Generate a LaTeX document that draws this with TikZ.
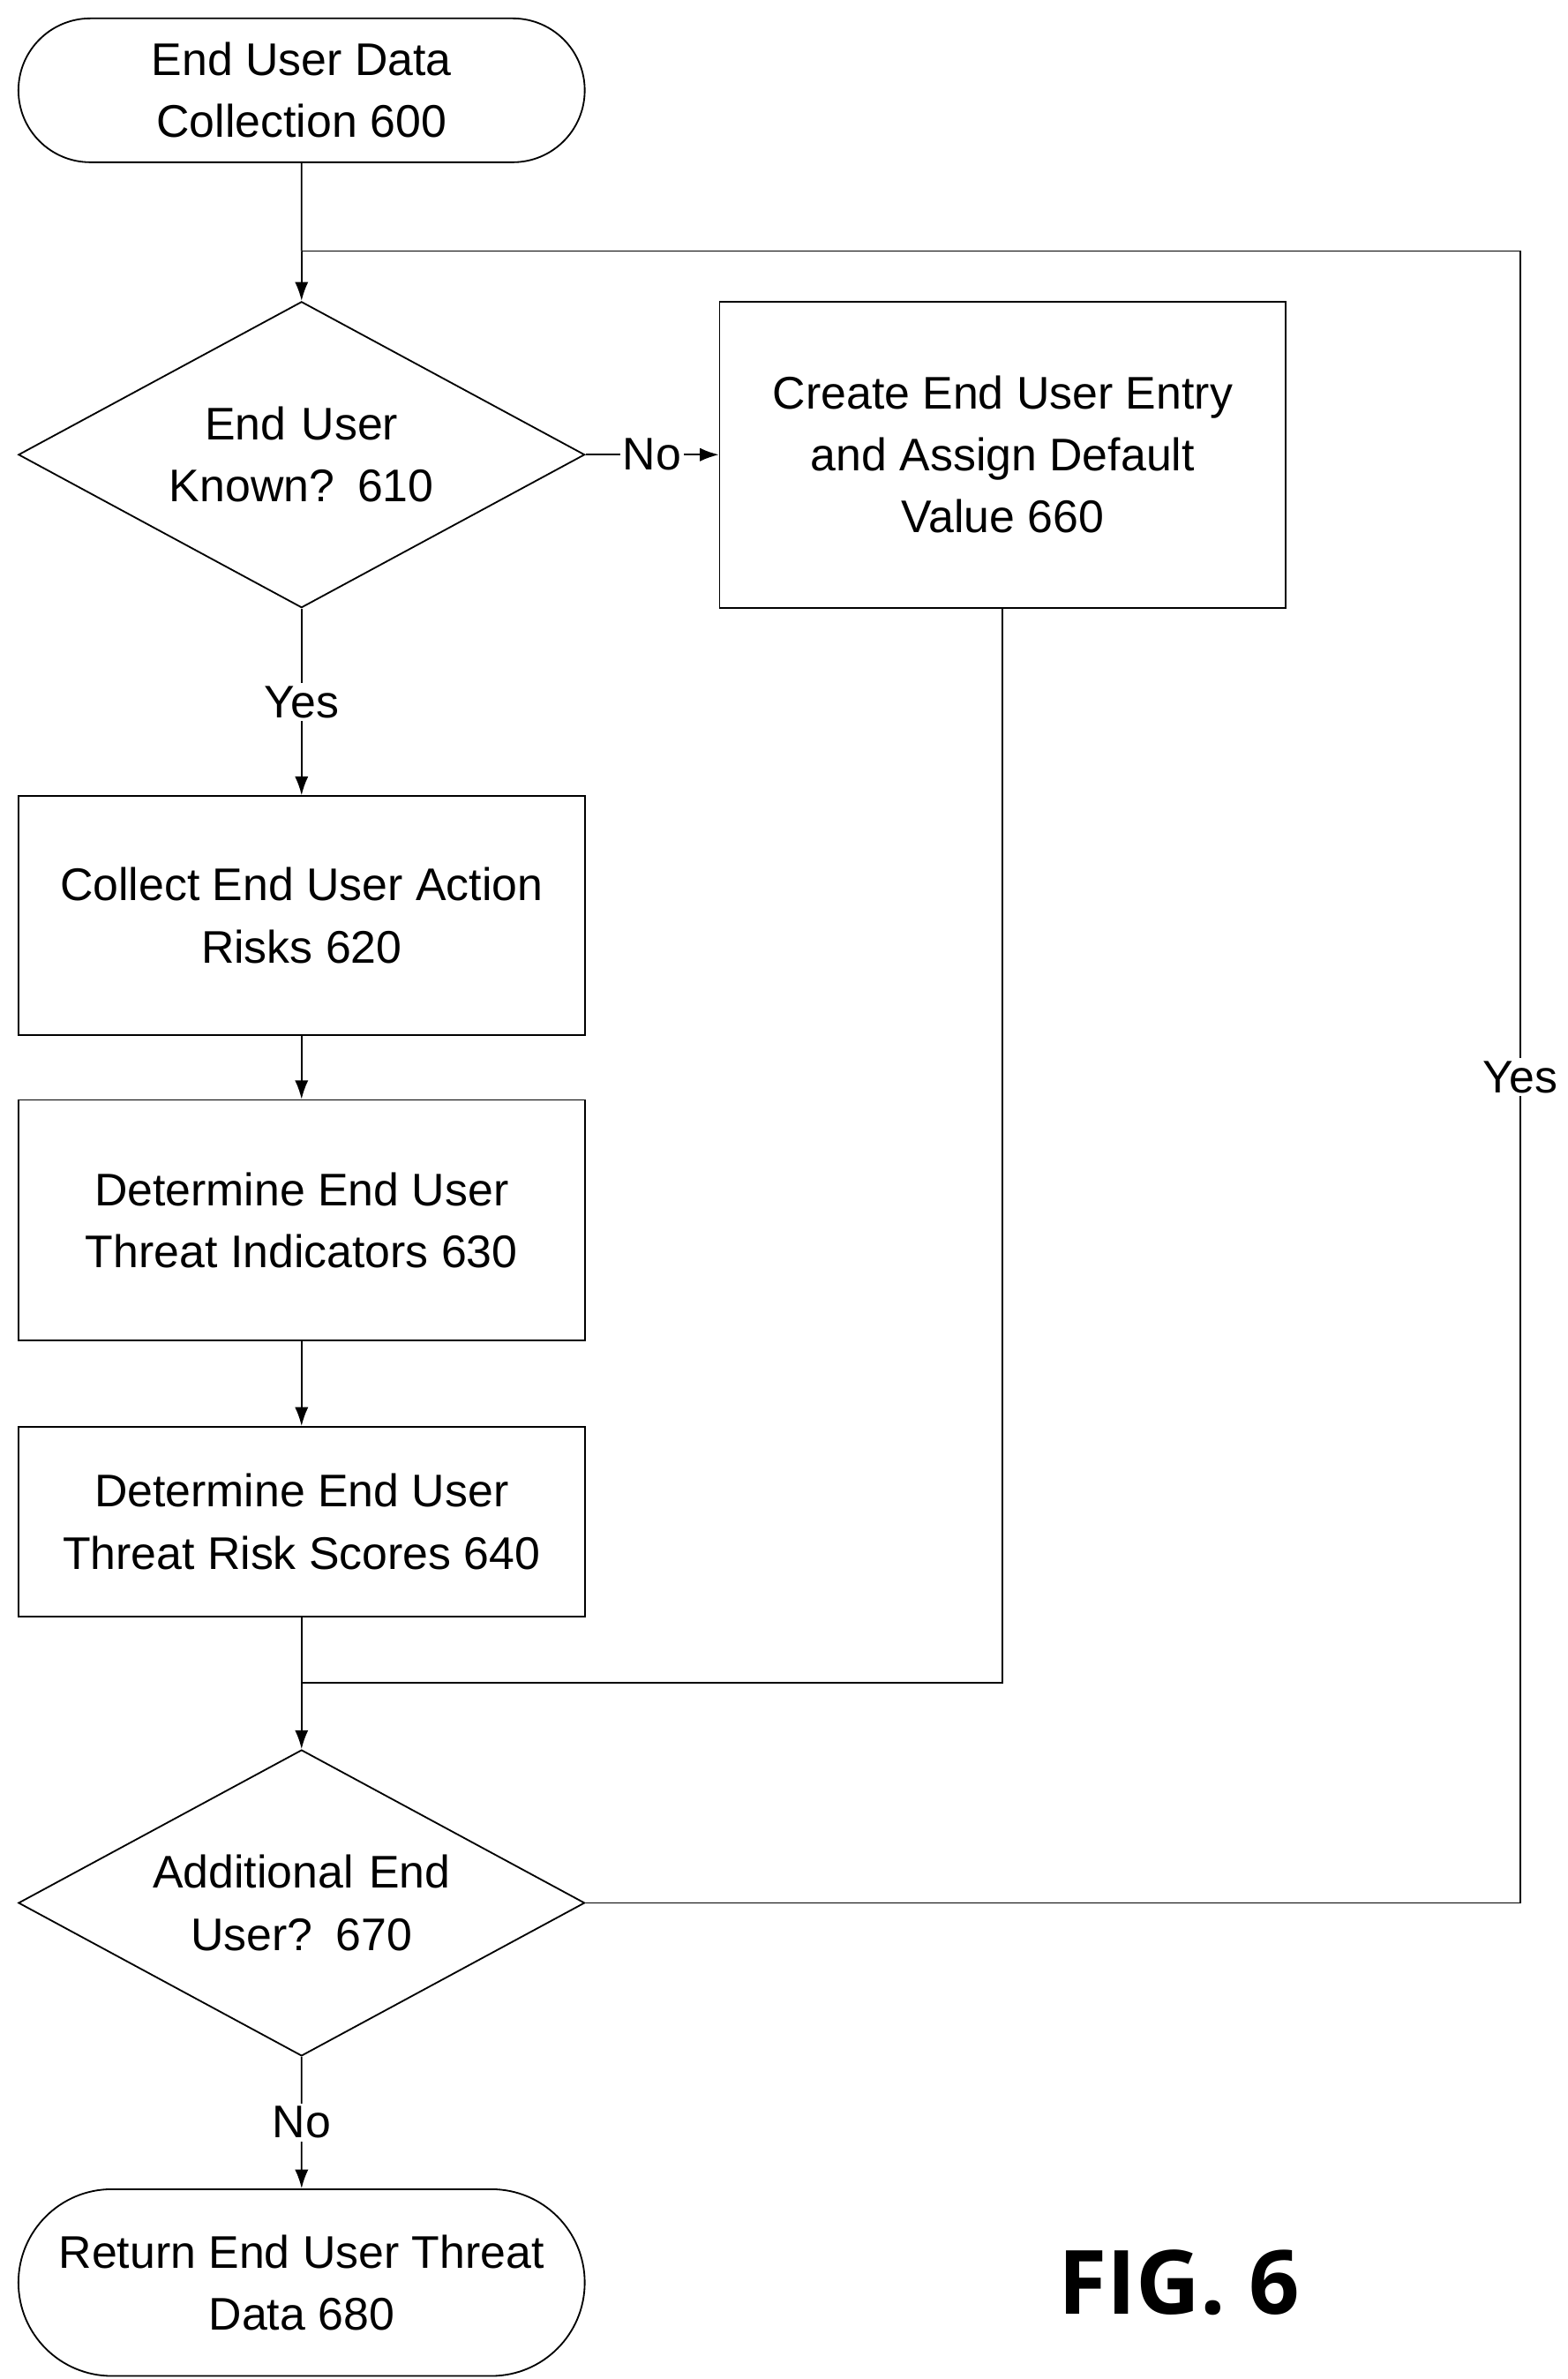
\documentclass[tikz,border=0pt]{standalone}
\usepackage{fontspec}
\setmainfont{Liberation Sans}
\newfontfamily\figfont{Open Sans}
\usetikzlibrary{shapes.geometric,shapes.misc,arrows.meta}
\tikzset{
  line/.style={line width=0.6pt},
  flow/.style={line, -{Latex[length=7pt,width=5pt]}},
  term/.style={line, draw, rounded rectangle, minimum width=7.4cm, minimum height=1.88cm, align=center, font=\fontsize{17}{23}\selectfont, inner sep=0pt},
  proc/.style={line, draw, rectangle, minimum width=7.4cm, align=center, font=\fontsize{17}{23}\selectfont, inner sep=0pt},
  dec/.style={line, draw, diamond, minimum width=7.4cm, minimum height=4cm, aspect=1.85, align=center, font=\fontsize{17}{23}\selectfont, inner sep=0pt, text width=4.5cm},
  lab/.style={fill=white, font=\fontsize{17}{23}\selectfont, inner sep=1pt}
}
\begin{document}
\begin{tikzpicture}[x=0.02cm,y=-0.02cm]
\useasboundingbox (0,0) rectangle (1024,1554);
% nodes
\node[term] (start) at (197,59) {End User Data\\Collection 600};
\node[dec] (known) at (197,297) {End User\\Known? 610};
\node[proc, minimum width=7.4cm, minimum height=4cm] (create) at (655,297) {Create End User Entry\\and Assign Default\\Value 660};
\node[proc, minimum height=3.12cm] (collect) at (197,598) {Collect End User Action\\Risks 620};
\node[proc, minimum height=3.14cm] (indic) at (197,797) {Determine End User\\Threat Indicators 630};
\node[proc, minimum height=2.48cm] (score) at (197,994) {Determine End User\\Threat Risk Scores 640};
\node[dec] (more) at (197,1243) {Additional End\\User? 670};
\node[term, minimum height=2.44cm] (end) at (197,1491) {Return End User Threat\\Data 680};
\node[font=\figfont\bfseries\fontsize{33}{40}\selectfont] (fig) at (770,1491) {FIG. 6};
% junctions
\coordinate (j1) at (197,164);
\coordinate (j2) at (197,1099);
\coordinate (r1) at (993,164);
\coordinate (r2) at (993,1243);
% connectors
\draw[line] (start) -- (j1);
\draw[flow] (j1) -- (known);
\draw[flow] (known) -- node[lab]{No} (create);
\draw[flow] (known) -- node[lab]{Yes} (collect);
\draw[flow] (collect) -- (indic);
\draw[flow] (indic) -- (score);
\draw[line] (score) -- (j2);
\draw[line] (create.south) |- (j2);
\draw[flow] (j2) -- (more);
\draw[line] (more.east) -- (r2) -- node[lab]{Yes} (r1) -- (j1);
\draw[flow] (more) -- node[lab]{No} (end);
\end{tikzpicture}
\end{document}
